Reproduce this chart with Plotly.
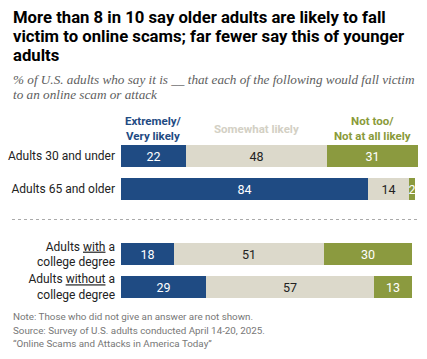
import plotly.graph_objects as go

# ---- data ----
categories = ["Adults 30 and under", "Adults 65 and older",
              "Adults <u>with</u> a<br>college degree",
              "Adults <u>without</u> a<br>college degree"]
row_pos = [0, 1, 3, 4]
series_names = ["Extremely/<br>Very likely", "Somewhat likely", "Not too/<br>Not at all likely"]
very_likely = [22, 84, 18, 29]
somewhat_likely = [48, 14, 51, 57]
not_likely = [31, 2, 30, 13]

title_lines = ["More than 8 in 10 say older adults are likely to fall",
               "victim to online scams; far fewer say this of younger",
               "adults"]
subtitle_lines = ["% of U.S. adults who say it is __ that each of the following would fall victim",
                  "to an online scam or attack"]
note_lines = ["Note: Those who did not give an answer are not shown.",
              "Source: Survey of U.S. adults conducted April 14-20, 2025.",
              "\u201cOnline Scams and Attacks in America Today\u201d"]

# ---- styles ----
W, H = 427, 359
ML, MR, MT, MB = 121, 9, 143, 59
colors = ["#1f4b83", "#dcd9cb", "#8b9a3f"]
text_colors = ["#ffffff", "#222222", "#ffffff"]
header_colors = ["#1f4b83", "#d3d0c4", "#8a9a3a"]
SANS = "Roboto, Arial, sans-serif"

def px_x(px):
    return (px - ML) / (W - ML - MR)

def px_y(py):
    return (H - MB - py) / (H - MT - MB)

fig = go.Figure()
for name, vals, c, tc in zip(series_names, [very_likely, somewhat_likely, not_likely], colors, text_colors):
    fig.add_trace(go.Bar(
        y=row_pos, x=vals, orientation="h", name=name,
        marker=dict(color=c, line=dict(width=0)),
        width=0.67,
        text=[str(v) for v in vals], textposition="inside",
        insidetextanchor="middle", textangle=0, constraintext="none",
        insidetextfont=dict(family=SANS, size=12.5, color=tc),
        hoverinfo="skip",
    ))

annotations = []
for i, line in enumerate(title_lines):
    annotations.append(dict(text=f"<b>{line}</b>", xref="paper", yref="paper",
                            x=px_x(11), y=px_y(17 + i * 19.5), xanchor="left", yanchor="middle",
                            showarrow=False, font=dict(family=SANS, size=16.7, color="#000000")))
for i, line in enumerate(subtitle_lines):
    annotations.append(dict(text=f"<i>{line}</i>", xref="paper", yref="paper",
                            x=px_x(11), y=px_y(79 + i * 15.5), xanchor="left", yanchor="middle",
                            showarrow=False, font=dict(family="Liberation Serif, serif", size=13.2, color="#5e5e5e")))
for i, line in enumerate(note_lines):
    annotations.append(dict(text=line, xref="paper", yref="paper",
                            x=px_x(11), y=px_y(316.5 + i * 13.5), xanchor="left", yanchor="middle",
                            showarrow=False, font=dict(family=SANS, size=9.8, color="#777777")))
starts = [0, very_likely[0], very_likely[0] + somewhat_likely[0]]
widths = [very_likely[0], somewhat_likely[0], not_likely[0]]
for name, s, w, hc in zip(series_names, starts, widths, header_colors):
    annotations.append(dict(text=f"<b>{name}</b>", xref="x", yref="paper",
                            x=s + w / 2, y=px_y(128.5), xanchor="center", yanchor="middle",
                            showarrow=False, align="center",
                            font=dict(family=SANS, size=11.5, color=hc)))

fig.update_layout(
    width=W, height=H,
    margin=dict(l=ML, r=MR, t=MT, b=MB, pad=0),
    barmode="stack", bargap=0,
    paper_bgcolor="white", plot_bgcolor="white",
    showlegend=False,
    annotations=annotations,
    shapes=[dict(type="line", xref="paper", yref="paper",
                 x0=px_x(12), x1=px_x(418), y0=px_y(219.5), y1=px_y(219.5),
                 line=dict(color="#aaaaaa", width=1, dash="dot"))],
    xaxis=dict(range=[0, 101], visible=False, fixedrange=True),
    yaxis=dict(range=[4.4, -0.4], tickvals=row_pos, ticktext=categories,
               showgrid=False, zeroline=False, showline=False, ticks="",
               ticklabelstandoff=5, automargin=False, fixedrange=True,
               tickfont=dict(family=SANS, size=12, color="#222222")),
)

fig.write_html("out.html", config={"displayModeBar": False},
               post_script="document.body.style.margin='0';")
